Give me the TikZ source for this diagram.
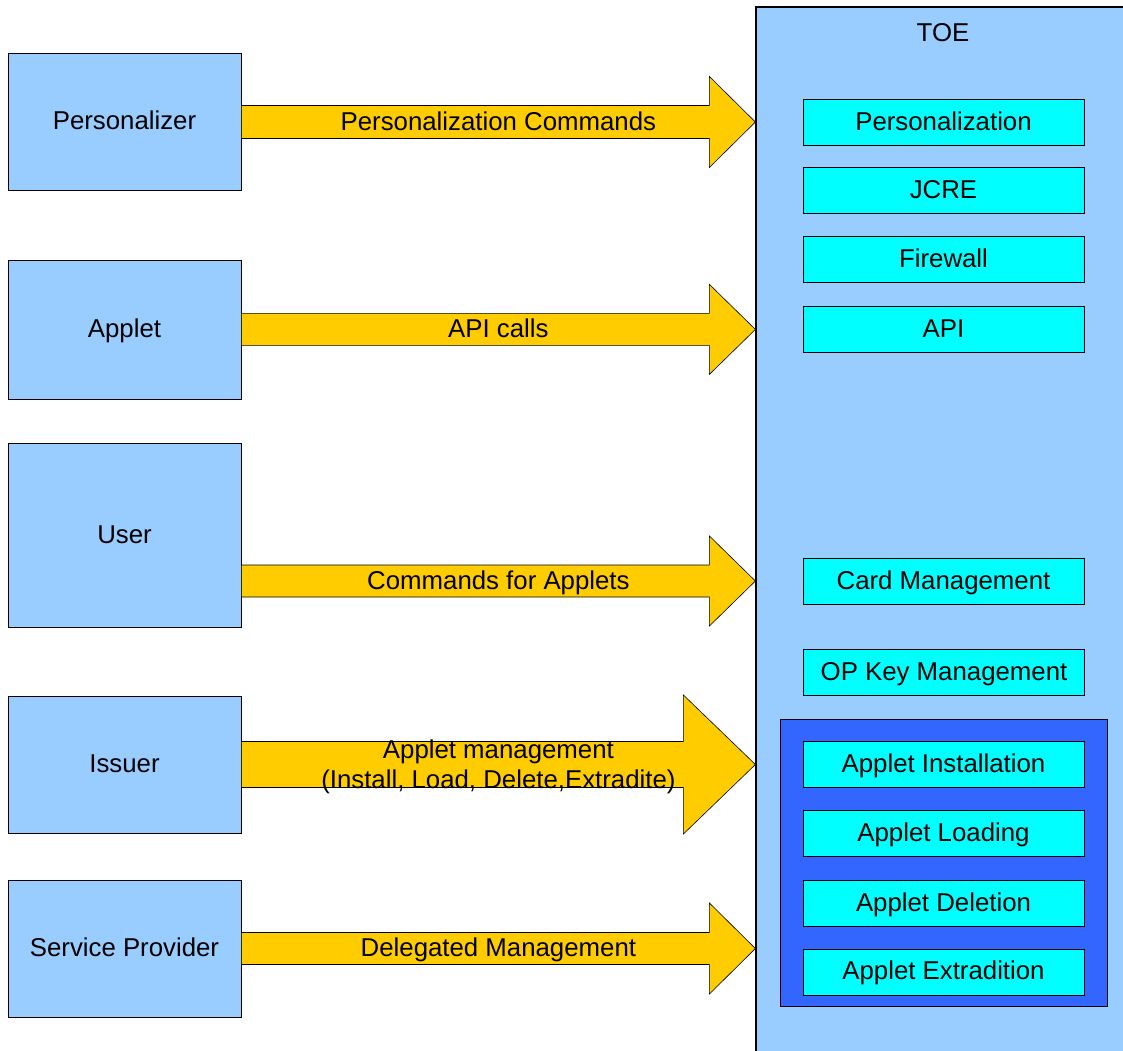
\documentclass[tikz,border=0pt]{standalone}
\usepackage{fontspec}
\setmainfont{Liberation Sans}
\usetikzlibrary{calc,positioning}
\definecolor{lightblue}{HTML}{99CCFF}
\definecolor{partcyan}{HTML}{00FFFF}
\definecolor{darkblue}{HTML}{3366FF}
\definecolor{arrowgold}{HTML}{FFCC00}
\tikzset{
    txt/.style={text height=20pt,text depth=4pt},
    actor/.style={draw,fill=lightblue,line width=0.8pt,txt,minimum width=233pt,minimum height=137pt},
    toebox/.style={draw,fill=lightblue,line width=1.2pt,minimum width=374pt,minimum height=1053pt},
    part/.style={draw,fill=partcyan,line width=0.8pt,txt,minimum width=281pt,minimum height=46pt},
    appgroup/.style={draw,fill=darkblue,line width=0.8pt,minimum width=327pt,minimum height=287pt},
    fatarrow/.style={draw,fill=arrowgold,line width=0.6pt}
}
% #1 label options, #2 tail, #3 tip, #4 shaft half, #5 head half, #6 head length, #7 label
\newcommand{\blockarrow}[7]{%
    \path let \p1=(#2), \p2=(#3) in
        [fatarrow] (\x1,\y1+#4) -- (\x2-#6,\y1+#4) -- (\x2-#6,\y1+#5) -- (\x2,\y1)
        -- (\x2-#6,\y1-#5) -- (\x2-#6,\y1-#4) -- (\x1,\y1-#4) -- cycle
        (\x1/2+\x2/2,\y1) node[align=center,#1] {#7};
}
\begin{document}
\begin{tikzpicture}[x=1pt,y=-1pt,font=\fontsize{25.8}{30}\selectfont]
    \useasboundingbox (0,0) rectangle (1123,1050);
    % TOE
    \node[toebox] (toe) at (943,533.5) {};
    \node[txt] (toetitle) at (943,33) {TOE};
    \node[part] (pers) at (943.5,122) {Personalization};
    \node[part,below=22pt of pers] (jcre) {JCRE};
    \node[part,below=22pt of jcre] (fw) {Firewall};
    \node[part,below=23pt of fw] (api) {API};
    \node[part] (cardm) at (943.5,581) {Card Management};
    \node[part,line width=1.6pt] (opkey) at (944,672.5) {OP Key Management};
    \node[appgroup] (grp) at (943.5,862.5) {};
    \node[part] (ainst) at (943.5,764.5) {Applet Installation};
    \node[part,below=22pt of ainst] (aload) {Applet Loading};
    \node[part,below=23pt of aload] (adel) {Applet Deletion};
    \node[part,below=22pt of adel] (aextr) {Applet Extradition};
    % actors
    \node[actor] (persz) at (124.5,121.5) {Personalizer};
    \node[actor,minimum height=139pt] (applet) at (124.5,329.5) {Applet};
    \node[actor,minimum height=184pt] (user) at (124.5,535) {User};
    \node[actor] (issuer) at (124.5,764.5) {Issuer};
    \node[actor] (sprov) at (124.5,948.5) {Service Provider};
    % arrows
    \blockarrow{name=a1,txt}{persz.east |- pers.west}{toe.west |- pers.west}{16.5pt}{45.5pt}{46pt}{Personalization Commands}
    \blockarrow{name=a2,txt}{applet.east |- api.west}{toe.west |- api.west}{16pt}{45pt}{46pt}{API calls}
    \blockarrow{name=a3,txt}{user.east |- cardm.west}{toe.west |- cardm.west}{16pt}{45pt}{46pt}{Commands for Applets}
    \blockarrow{name=a4,yshift=-2pt}{issuer.east}{toe.west |- issuer.east}{23pt}{69.5pt}{72pt}{Applet management\\(Install, Load, Delete,Extradite)}
    \blockarrow{name=a5,txt}{sprov.east}{toe.west |- sprov.east}{16pt}{45.5pt}{46pt}{Delegated Management}
\end{tikzpicture}
\end{document}
